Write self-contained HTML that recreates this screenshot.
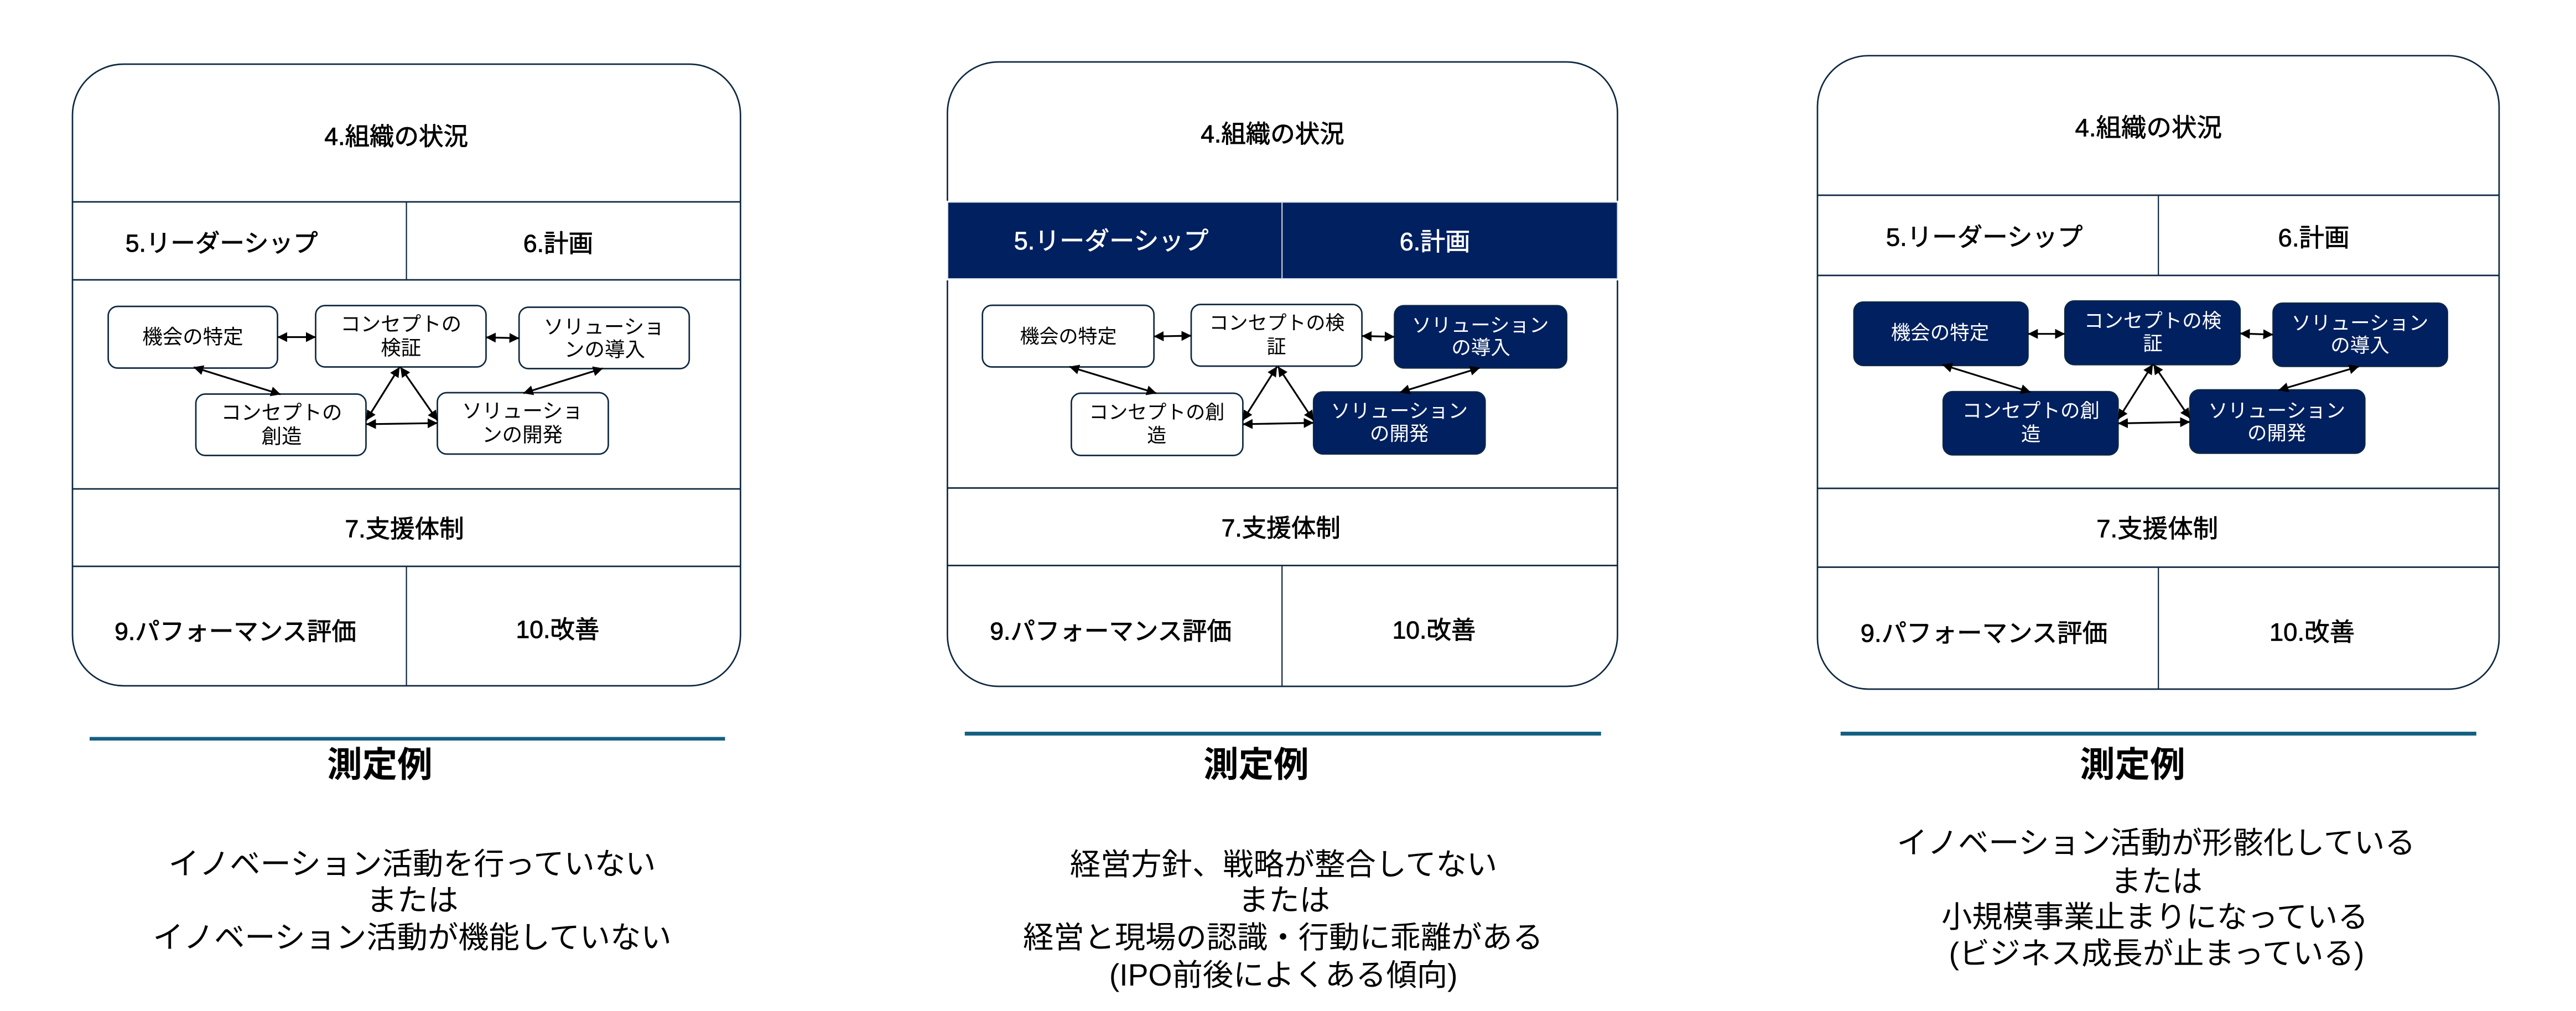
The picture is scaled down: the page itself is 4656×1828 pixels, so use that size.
<!DOCTYPE html>
<html lang="ja"><head><meta charset="utf-8"><title>測定例</title>
<style>
html,body{margin:0;padding:0;background:#fff}
svg{display:block}
text{font-family:"Liberation Sans","Noto Sans CJK JP",sans-serif;text-anchor:middle;fill:#000}
.t{font-size:44.5px;stroke:#000;stroke-width:.9px}
.t3{font-size:45.5px;stroke:#000;stroke-width:.8px}
.tw{font-size:45px;fill:#fff;stroke:#fff;stroke-width:.8px}
.n1{font-size:36.5px}
.n2{font-size:35px}
.w{font-size:35.5px;fill:#fff}
.b{font-size:55.3px}
.h{font-size:63.5px;font-weight:700}
.p{fill:#fff;stroke:#0e2841;stroke-width:2.7}
.l{stroke:#0e2841;stroke-width:2.7;fill:none}
.v{stroke:#0e2841;stroke-width:2.2;fill:none}
.r{fill:#fff;stroke:#0e2841;stroke-width:2.7}
.d{fill:#002060;stroke:#0e2841;stroke-width:2.2}
.a{stroke:#000;stroke-width:3.2;fill:none;marker-start:url(#m);marker-end:url(#m)}
</style></head><body>
<svg xmlns="http://www.w3.org/2000/svg" width="4656" height="1828" viewBox="0 0 4656 1828">
<defs><marker id="m" viewBox="0 0 18 18" refX="17.5" refY="9" markerWidth="18" markerHeight="18" markerUnits="userSpaceOnUse" orient="auto-start-reverse"><path d="M0 0L18 9L0 18Z" fill="#000"/></marker></defs>
<rect width="4656" height="1828" fill="#fff"/>

<!-- Panel 1 -->
<rect class="p" x="131" y="116" width="1207.400" height="1124" rx="92" ry="92"/>
<path class="l" d="M131 365H1338.400M131 506H1338.400M131 884H1338.400M131 1024H1338.400"/>
<path class="v" d="M734.600 365V506M734.600 1024V1240"/>
<rect class="r" x="195.600" y="554" width="306" height="111.500" rx="17"/>
<rect class="r" x="570.500" y="552.500" width="308" height="111" rx="17"/>
<rect class="r" x="938.200" y="555.500" width="307.600" height="111" rx="17"/>
<rect class="r" x="354" y="712.500" width="307.500" height="111" rx="17"/>
<rect class="r" x="790.500" y="710" width="309" height="111" rx="17"/>
<line class="a" x1="501.700" y1="609.500" x2="570.500" y2="609.500"/>
<line class="a" x1="878.500" y1="610" x2="938.200" y2="611.500"/>
<line class="a" x1="350" y1="664" x2="507" y2="713"/>
<line class="a" x1="1089.500" y1="666" x2="946" y2="711"/>
<line class="a" x1="722" y1="664" x2="662" y2="760"/>
<line class="a" x1="724" y1="664" x2="790.500" y2="760"/>
<line class="a" x1="662" y1="767" x2="790.500" y2="765"/>
<text class="t" x="716.200" y="262">4.組織の状況</text>
<text class="t" x="400.600" y="455">5.リーダーシップ</text>
<text class="t" x="1008.900" y="455.500">6.計画</text>
<text class="t" x="731.100" y="971.500">7.支援体制</text>
<text class="t" x="425.500" y="1157">9.パフォーマンス評価</text>
<text class="t" x="1007.900" y="1153.500">10.改善</text>
<text class="n1" x="348.500" y="621.500">機会の特定</text>
<text class="n1" x="724.700" y="598.500">コンセプトの</text>
<text class="n1" x="724.700" y="641.500">検証</text>
<text class="n1" x="1091.500" y="603.500">ソリューショ</text>
<text class="n1" x="1093" y="644.500">ンの導入</text>
<text class="n1" x="509" y="758.500">コンセプトの</text>
<text class="n1" x="509" y="801.500">創造</text>
<text class="n1" x="944.200" y="755.500">ソリューショ</text>
<text class="n1" x="944.200" y="798.500">ンの開発</text>
<rect x="162" y="1332.500" width="1148.500" height="6.500" fill="#156082"/>
<text class="h" x="686.400" y="1404.500">測定例</text>
<text class="b" x="745" y="1581">イノベーション活動を行っていない</text>
<text class="b" x="745.500" y="1646.500">または</text>
<text class="b" x="745" y="1714">イノベーション活動が機能していない</text>

<!-- Panel 2 -->
<rect class="p" x="1712.400" y="112" width="1211.100" height="1129" rx="92" ry="92"/>
<path class="l" d="M1712.400 882.400H2923.500M1712.400 1022.500H2923.500"/>
<path class="v" d="M2317.200 1022.500V1241"/>
<rect x="1711" y="363" width="1214" height="144" fill="#fff"/>
<rect x="1713" y="365.500" width="1210.500" height="138.500" fill="#002060" stroke="#d9e1e8" stroke-width="2"/>
<path d="M2317.200 365V504" stroke="#d9e1e8" stroke-width="2"/>
<rect class="r" x="1775.700" y="552" width="310" height="111.500" rx="17"/>
<rect class="r" x="2153" y="550.500" width="308.600" height="111.500" rx="17"/>
<rect class="d" x="2520.300" y="552.500" width="311.600" height="113" rx="17"/>
<rect class="r" x="1936.400" y="711" width="310" height="112.500" rx="17"/>
<rect class="d" x="2374" y="708.500" width="310.500" height="112.500" rx="17"/>
<line class="a" x1="2085.800" y1="608.300" x2="2153" y2="607"/>
<line class="a" x1="2461.600" y1="607.500" x2="2520.300" y2="609"/>
<line class="a" x1="1933" y1="663" x2="2090" y2="711"/>
<line class="a" x1="2674.600" y1="665" x2="2530.500" y2="709.400"/>
<line class="a" x1="2308" y1="663" x2="2246.500" y2="760"/>
<line class="a" x1="2310" y1="663" x2="2374" y2="760"/>
<line class="a" x1="2246.500" y1="767" x2="2374" y2="764.500"/>
<text class="t" x="2300" y="257.500">4.組織の状況</text>
<text class="tw" x="2008.600" y="451">5.リーダーシップ</text>
<text class="tw" x="2593.500" y="452.500">6.計画</text>
<text class="t" x="2315.200" y="970">7.支援体制</text>
<text class="t" x="2007.600" y="1156.500">9.パフォーマンス評価</text>
<text class="t" x="2592" y="1154.500">10.改善</text>
<text class="n2" x="1931" y="620.500">機会の特定</text>
<text class="n2" x="2308" y="596">コンセプトの検</text>
<text class="n2" x="2307" y="639">証</text>
<text class="w" x="2675.600" y="600">ソリューション</text>
<text class="w" x="2676.600" y="640.500">の導入</text>
<text class="n2" x="2090.700" y="757.600">コンセプトの創</text>
<text class="n2" x="2090.700" y="799.700">造</text>
<text class="w" x="2529.300" y="755">ソリューション</text>
<text class="w" x="2529.300" y="796">の開発</text>
<rect x="1743.800" y="1323" width="1150" height="7" fill="#156082"/>
<text class="h" x="2270.400" y="1404.500">測定例</text>
<text class="b" x="2320" y="1582">経営方針、戦略が整合してない</text>
<text class="b" x="2321" y="1646.500">または</text>
<text class="b" x="2319" y="1714">経営と現場の認識・行動に乖離がある</text>
<text class="b" x="2319.700" y="1782">(IPO前後によくある傾向)</text>

<!-- Panel 3 -->
<rect class="p" x="3285" y="100.700" width="1232" height="1145.300" rx="92" ry="92"/>
<path class="l" d="M3285 353H4517M3285 498H4517M3285 883H4517M3285 1025.500H4517"/>
<path class="v" d="M3901.200 353V498M3901.200 1025.500V1246"/>
<rect class="d" x="3350.700" y="546" width="315" height="115" rx="17"/>
<rect class="d" x="3732" y="544" width="317" height="115.500" rx="17"/>
<rect class="d" x="4108.300" y="548" width="315.500" height="114.600" rx="17"/>
<rect class="d" x="3512" y="708" width="316.500" height="114.600" rx="17"/>
<rect class="d" x="3958" y="704.700" width="316.500" height="114.900" rx="17"/>
<line class="a" x1="3665.800" y1="603.700" x2="3732" y2="603.700"/>
<line class="a" x1="4049" y1="603" x2="4108.300" y2="605"/>
<line class="a" x1="3511" y1="659.500" x2="3670" y2="709"/>
<line class="a" x1="4263.500" y1="662.600" x2="4118.500" y2="705.500"/>
<line class="a" x1="3891" y1="659" x2="3828.500" y2="758"/>
<line class="a" x1="3892.500" y1="659" x2="3958" y2="756"/>
<line class="a" x1="3828.500" y1="765.500" x2="3958" y2="763"/>
<text class="t3" x="3883.300" y="246.500">4.組織の状況</text>
<text class="t3" x="3586.600" y="444.500">5.リーダーシップ</text>
<text class="t3" x="4182" y="445.500">6.計画</text>
<text class="t3" x="3899.200" y="971.500">7.支援体制</text>
<text class="t3" x="3586" y="1160.500">9.パフォーマンス評価</text>
<text class="t3" x="4179" y="1158.500">10.改善</text>
<text class="w" x="3506.500" y="613.600">機会の特定</text>
<text class="w" x="3891" y="592">コンセプトの検</text>
<text class="w" x="3891" y="633">証</text>
<text class="w" x="4265.500" y="596">ソリューション</text>
<text class="w" x="4265.500" y="636.600">の導入</text>
<text class="w" x="3670.700" y="754.500">コンセプトの創</text>
<text class="w" x="3670.700" y="797">造</text>
<text class="w" x="4115.200" y="754.500">ソリューション</text>
<text class="w" x="4115.200" y="795">の開発</text>
<rect x="3326.800" y="1323" width="1149" height="7" fill="#156082"/>
<text class="h" x="3854.400" y="1404.500">測定例</text>
<text class="b" x="3897" y="1543">イノベーション活動が形骸化している</text>
<text class="b" x="3898" y="1612.500">または</text>
<text class="b" x="3894.800" y="1677">小規模事業止まりになっている</text>
<text class="b" x="3898" y="1743">(ビジネス成長が止まっている)</text>
</svg>
</body></html>
